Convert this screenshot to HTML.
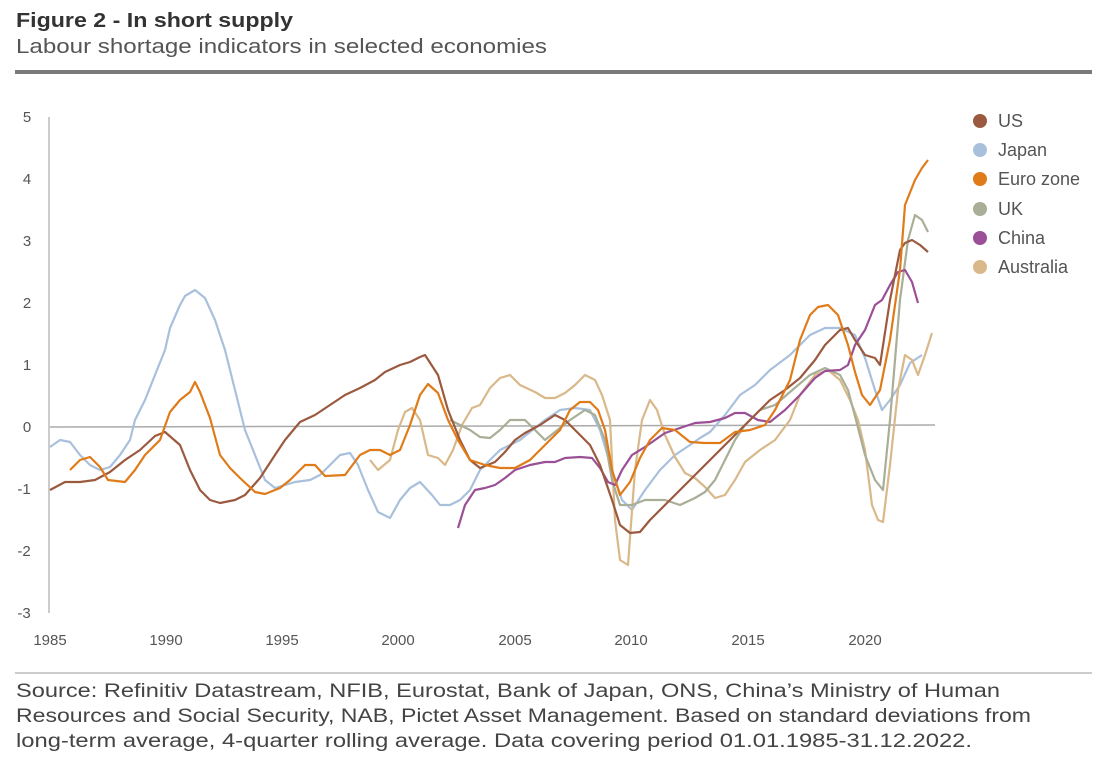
<!DOCTYPE html>
<html><head><meta charset="utf-8"><style>
body{margin:0;background:#fff;width:1110px;height:773px;overflow:hidden;font-family:"Liberation Sans",sans-serif;}
</style></head><body>
<svg width="1110" height="773" xmlns="http://www.w3.org/2000/svg" font-family="Liberation Sans, sans-serif">
<text x="16" y="27" font-size="20" font-weight="bold" fill="#333" textLength="277" lengthAdjust="spacingAndGlyphs">Figure 2 - In short supply</text>
<text x="16" y="53" font-size="20" fill="#555" textLength="531" lengthAdjust="spacingAndGlyphs">Labour shortage indicators in selected economies</text>
<rect x="15" y="70" width="1077" height="4" fill="#7a7a7a"/>
<g font-size="15" fill="#555" text-anchor="middle">
<text x="27" y="122">5</text><text x="27" y="184">4</text><text x="27" y="246">3</text><text x="27" y="308">2</text><text x="27" y="370">1</text><text x="27" y="432">0</text><text x="24" y="494">-1</text><text x="24" y="556">-2</text><text x="24" y="618">-3</text>
<text x="50" y="645">1985</text><text x="166" y="645">1990</text><text x="282" y="645">1995</text><text x="398" y="645">2000</text><text x="515" y="645">2005</text><text x="631" y="645">2010</text><text x="748" y="645">2015</text><text x="865" y="645">2020</text>
</g>
<line x1="49" y1="117" x2="49" y2="613" stroke="#bbb" stroke-width="1.5"/>
<line x1="50" y1="427" x2="935" y2="425" stroke="#aaa" stroke-width="1.5"/>
<g fill="none" stroke-width="2.2" stroke-linejoin="round">
<polyline stroke="#a9c0dc" points="50,447 60,440 70,442 80,455 90,465 100,470 110,467 120,455 130,440 135,420 145,400 155,375 165,350 170,328 180,305 185,296 190,293 195,290 205,298 215,320 225,350 235,390 245,430 255,455 265,480 275,488 285,485 295,482 310,480 320,475 330,465 340,455 350,453 358,465 368,490 378,512 390,518 400,500 410,488 420,482 432,495 440,505 450,505 460,500 470,490 480,470 490,460 500,450 510,445 520,440 530,432 545,420 560,410 575,408 590,410 600,430 612,470 622,500 632,510 645,490 660,470 675,455 690,445 700,438 710,432 725,415 740,395 755,385 770,370 790,355 810,335 825,328 840,328 855,335 865,358 875,390 882,410 890,400 900,385 910,363 922,355"/>
<polyline stroke="#d9b88a" points="370,460 378,470 390,460 398,430 405,412 412,408 420,420 428,455 438,458 445,465 453,450 462,425 472,408 480,405 490,388 500,378 510,375 520,385 535,392 545,398 555,398 565,393 575,385 585,375 595,380 602,395 610,420 615,520 620,560 628,565 635,470 642,420 650,400 657,410 665,435 675,457 685,473 695,478 705,487 715,498 725,495 735,480 745,462 760,450 775,440 790,420 800,395 815,375 828,370 840,380 850,400 858,420 865,450 872,505 878,520 883,522 890,465 898,390 905,355 912,360 918,375 925,355 932,333"/>
<polyline stroke="#a9ae96" points="450,420 460,425 470,430 480,437 490,438 500,430 510,420 525,420 535,430 545,440 555,432 570,420 585,410 595,415 605,440 612,480 620,505 632,505 645,500 665,500 680,505 695,498 705,492 715,480 725,460 735,440 745,425 760,410 775,405 790,392 810,375 825,368 840,375 848,390 856,420 865,455 875,480 883,490 890,420 900,300 908,240 915,215 922,220 928,232"/>
<polyline stroke="#9b4f96" points="458,528 465,505 475,490 485,488 495,485 505,478 515,470 530,465 545,462 555,462 565,458 580,457 592,458 600,468 608,482 615,485 622,470 632,455 645,447 655,440 665,433 680,428 695,423 710,422 725,418 735,413 745,413 758,420 770,422 785,410 800,395 815,378 825,371 840,370 848,365 855,345 865,330 875,305 882,300 890,285 898,272 905,270 912,282 918,303"/>
<polyline stroke="#9b5a3f" points="50,490 65,482 80,482 95,480 110,472 125,460 140,450 155,436 165,432 180,445 190,470 200,490 210,500 220,503 235,500 245,495 260,478 275,455 285,440 300,422 315,415 330,405 345,395 360,388 375,380 385,372 400,365 410,362 420,357 425,355 438,375 448,410 460,440 470,460 480,468 495,462 505,452 515,440 525,433 540,425 555,415 565,420 575,430 590,445 600,465 612,500 620,525 630,533 640,532 650,520 665,505 680,490 695,475 710,460 725,445 740,430 755,415 770,400 785,390 800,378 815,360 825,345 840,330 848,328 855,340 865,355 875,358 880,365 890,300 900,250 905,243 912,240 920,245 928,252"/>
<polyline stroke="#e07b1a" points="70,470 80,460 90,457 100,467 108,480 125,482 135,470 145,455 160,440 170,412 180,400 190,392 195,382 200,392 210,418 220,455 230,468 240,478 255,492 265,494 280,488 290,480 305,465 315,465 325,476 345,475 360,455 370,450 380,450 390,455 400,450 410,425 420,395 428,384 438,393 448,420 458,440 470,460 485,465 500,468 515,468 530,460 545,445 560,430 570,410 580,402 590,402 598,410 605,430 612,470 620,495 630,482 640,458 650,440 662,428 675,430 690,442 705,443 720,443 735,432 750,430 765,425 775,410 790,380 800,340 810,315 818,307 828,305 838,315 848,345 855,372 862,395 870,405 880,390 890,340 900,270 905,205 915,180 922,168 928,160"/>
</g>
<g font-size="18" fill="#555">
<circle cx="980" cy="121" r="7" fill="#9b5a3f"/><text x="998" y="127">US</text>
<circle cx="980" cy="150" r="7" fill="#a9c0dc"/><text x="998" y="156">Japan</text>
<circle cx="980" cy="179" r="7" fill="#e07b1a"/><text x="998" y="185">Euro zone</text>
<circle cx="980" cy="209" r="7" fill="#a9ae96"/><text x="998" y="215">UK</text>
<circle cx="980" cy="238" r="7" fill="#9b4f96"/><text x="998" y="244">China</text>
<circle cx="980" cy="267" r="7" fill="#d9b88a"/><text x="998" y="273">Australia</text>
</g>
<line x1="15" y1="673" x2="1092" y2="673" stroke="#999" stroke-width="1"/>
<g font-size="19" fill="#444" lengthAdjust="spacingAndGlyphs">
<text x="16" y="697" textLength="984" lengthAdjust="spacingAndGlyphs">Source: Refinitiv Datastream, NFIB, Eurostat, Bank of Japan, ONS, China’s Ministry of Human</text>
<text x="16" y="722" textLength="1015" lengthAdjust="spacingAndGlyphs">Resources and Social Security, NAB, Pictet Asset Management. Based on standard deviations from</text>
<text x="16" y="747" textLength="956" lengthAdjust="spacingAndGlyphs">long-term average, 4-quarter rolling average. Data covering period 01.01.1985-31.12.2022.</text>
</g>
</svg>
</body></html>
